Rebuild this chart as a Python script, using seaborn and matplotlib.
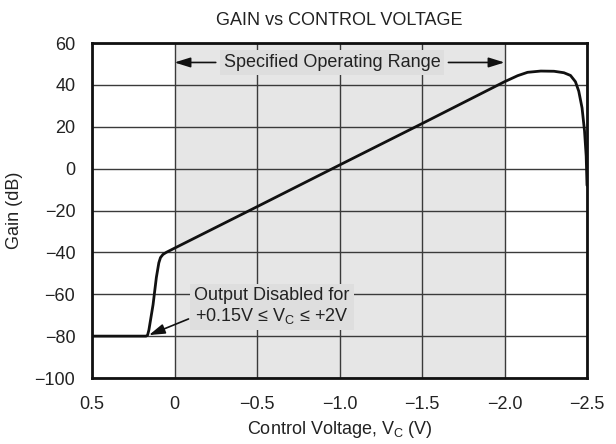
import matplotlib
matplotlib.use("Agg")
import matplotlib.pyplot as plt
import seaborn as sns
import pandas as pd

# ---- data ----
control_voltage = [0.5, 0.30, 0.172, 0.163, 0.155, 0.13, 0.11, 0.095, 0.085, 0.07, 0.05, 0.03, 0.0,
                   -0.5, -1.0, -1.5, -2.0, -2.08, -2.14, -2.22, -2.30, -2.36, -2.40, -2.43,
                   -2.45, -2.47, -2.485, -2.495, -2.5]
gain_db = [-80, -80, -80, -79.5, -77, -65, -52, -45, -42.5, -41, -40, -39.2, -38,
           -18.2, 1.7, 21.5, 41.5, 44.4, 46.0, 46.6, 46.5, 45.8, 44.5, 41.5,
           37, 29, 18, 6, -8]
x_ticks = [0.5, 0, -0.5, -1.0, -1.5, -2.0, -2.5]
x_tick_labels = ["0.5", "0", "\u22120.5", "\u22121.0", "\u22121.5", "\u22122.0", "\u22122.5"]
y_ticks = [60, 40, 20, 0, -20, -40, -60, -80, -100]
operating_range = [0, -2.0]

df = pd.DataFrame({"Control Voltage": control_voltage, "Gain": gain_db})

sns.set_theme(style="white")
plt.rcParams["font.family"] = ["Liberation Sans", "DejaVu Sans"]
plt.rcParams["mathtext.default"] = "regular"

fig = plt.figure(figsize=(6.16, 4.44), dpi=100)
ax = fig.add_axes([92 / 616, 1 - 378 / 444, 495 / 616, 335 / 444])

txt_color = "#222222"
fs = 13

ax.axvspan(operating_range[0], operating_range[1], color="#e6e6e6", zorder=0, lw=0)
ax.set_axisbelow(False)
for x in x_ticks:
    ax.axvline(x, color="#3a3a3a", lw=1.0, zorder=1)
for y in y_ticks:
    ax.axhline(y, color="#3a3a3a", lw=1.0, zorder=1)

sns.lineplot(data=df, x="Control Voltage", y="Gain", sort=False, estimator=None,
             color="#111111", lw=2.0, ax=ax, zorder=5)

ax.set_xlim(0.5, -2.5)
ax.set_ylim(-100, 60)
ax.set_xticks(x_ticks)
ax.set_xticklabels(x_tick_labels)
ax.set_yticks(y_ticks)
ax.tick_params(axis="both", length=0, labelsize=fs, colors=txt_color)
ax.tick_params(axis="y", pad=12)
ax.tick_params(axis="x", pad=13)
for s in ax.spines.values():
    s.set_color("#111111")
    s.set_linewidth(2.0)
    s.set_zorder(6)

ax.set_xlabel("Control Voltage, V$_C$ (V)", fontsize=fs, color=txt_color, labelpad=4)
ax.set_ylabel("Gain (dB)", fontsize=fs, color=txt_color, labelpad=8)
ax.set_title("GAIN vs CONTROL VOLTAGE", fontsize=fs, color=txt_color, pad=13)

box = dict(boxstyle="square,pad=0.22", fc="#dedede", ec="none")
ax.text(-0.955, 50.7, "Specified Operating Range", ha="center", va="center",
        fontsize=fs, color=txt_color, bbox=box, zorder=7)
arrow = dict(arrowstyle="-|>,head_length=0.8,head_width=0.25", color="#111111", lw=1.2,
             shrinkA=0, shrinkB=0)
ax.annotate("", xy=(0, 50.7), xytext=(-0.25, 50.7), arrowprops=arrow, zorder=7)
ax.annotate("", xy=(-2.0, 50.7), xytext=(-1.66, 50.7), arrowprops=arrow, zorder=7)

ax.text(-0.59, -66, "Output Disabled for\n+0.15V \u2264 V$_C$ \u2264 +2V", ha="center",
        va="center", fontsize=fs, color=txt_color, bbox=box, zorder=7, linespacing=1.15)
ax.annotate("", xy=(0.155, -79.5), xytext=(-0.085, -71.8), arrowprops=arrow, zorder=7)

fig.savefig("out.png", dpi=100)
